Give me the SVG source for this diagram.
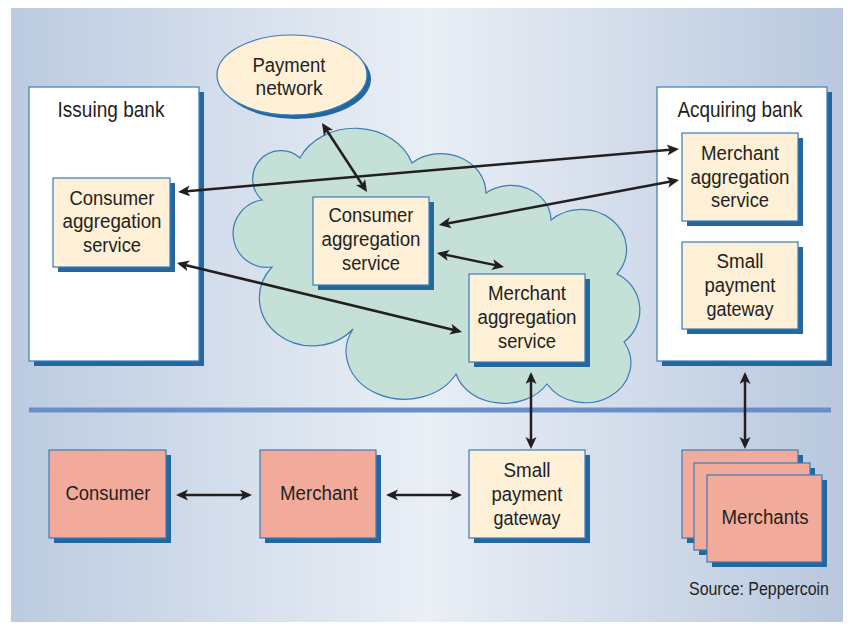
<svg xmlns="http://www.w3.org/2000/svg" width="848" height="624" viewBox="0 0 848 624">
<defs>
<linearGradient id="bg" x1="0" y1="0" x2="1" y2="0">
<stop offset="0" stop-color="#bccbe0"/>
<stop offset="0.5" stop-color="#eaeff6"/>
<stop offset="1" stop-color="#b9c8de"/>
</linearGradient>
<marker id="ah" markerUnits="userSpaceOnUse" markerWidth="14" markerHeight="12" refX="9" refY="5.5" orient="auto-start-reverse">
<path d="M0,0 L12,5.5 L0,11 L3,5.5 Z" fill="#231f20"/>
</marker>
<style>
.sh{fill:#22679f}
.box{stroke:#3b7cb8;stroke-width:1.2}
.bank{fill:#ffffff}
.cream{fill:#fff0d8}
.salmon{fill:#f2ab9a}
text{font-family:"Liberation Sans",Arial,sans-serif;fill:#231f20;text-anchor:middle;font-size:20px}
.lbl{font-size:22px}
.con{stroke:#231f20;stroke-width:2.5;fill:none;marker-start:url(#ah);marker-end:url(#ah)}
</style>
</defs>
<rect x="11" y="8" width="832" height="614" fill="url(#bg)"/>
<line x1="29" y1="410" x2="831" y2="410" stroke="#6a8fc8" stroke-width="5"/>

<g id="issuing-bank">
<rect class="sh" x="34" y="92" width="170" height="274"/>
<rect class="box bank" x="29" y="87" width="170" height="274"/>
<text class="lbl" x="111" y="117" textLength="107" lengthAdjust="spacingAndGlyphs">Issuing bank</text>
</g>
<g id="acquiring-bank">
<rect class="sh" x="662" y="92" width="170" height="274"/>
<rect class="box bank" x="657" y="87" width="170" height="274"/>
<text class="lbl" x="740" y="117" textLength="125" lengthAdjust="spacingAndGlyphs">Acquiring bank</text>
</g>

<g id="cloud">
<path d="M262,200 A28 28 0 0 1 300,158 A60 50 0 0 1 412,163 A45 40 0 0 1 486,193 A40 35 0 0 1 551,220 A45 40 0 0 1 617,274 A40 40 0 0 1 624,342 A40 35 0 0 1 547,384 A50 40 0 0 1 456,374 A55 45 0 0 1 353,329 A50 45 0 0 1 272,267 A30 30 0 0 1 262,200 Z" fill="#c5e0d6" stroke="#3b7cb8" stroke-width="1.2"/>
</g>

<g id="payment-network">
<ellipse class="sh" cx="296" cy="79" rx="75" ry="40"/>
<ellipse class="box cream" cx="292" cy="75" rx="75" ry="40"/>
<text x="289" y="72" textLength="73" lengthAdjust="spacingAndGlyphs">Payment</text>
<text x="289" y="95" textLength="67" lengthAdjust="spacingAndGlyphs">network</text>
</g>

<g id="issuing-consumer-agg">
<rect class="sh" x="58" y="183" width="117" height="89"/>
<rect class="box cream" x="53" y="178" width="117" height="89"/>
<text x="112" y="205" textLength="85" lengthAdjust="spacingAndGlyphs">Consumer</text>
<text x="112" y="228" textLength="99" lengthAdjust="spacingAndGlyphs">aggregation</text>
<text x="112" y="252" textLength="58" lengthAdjust="spacingAndGlyphs">service</text>
</g>

<g id="cloud-consumer-agg">
<rect class="sh" x="318" y="202" width="116" height="88"/>
<rect class="box cream" x="313" y="197" width="116" height="88"/>
<text x="371" y="222" textLength="85" lengthAdjust="spacingAndGlyphs">Consumer</text>
<text x="371" y="246" textLength="99" lengthAdjust="spacingAndGlyphs">aggregation</text>
<text x="371" y="270" textLength="58" lengthAdjust="spacingAndGlyphs">service</text>
</g>

<g id="cloud-merchant-agg">
<rect class="sh" x="474" y="279" width="116" height="88"/>
<rect class="box cream" x="469" y="274" width="116" height="88"/>
<text x="527" y="300" textLength="78" lengthAdjust="spacingAndGlyphs">Merchant</text>
<text x="527" y="324" textLength="99" lengthAdjust="spacingAndGlyphs">aggregation</text>
<text x="527" y="348" textLength="58" lengthAdjust="spacingAndGlyphs">service</text>
</g>

<g id="acq-merchant-agg">
<rect class="sh" x="687" y="138" width="116" height="88"/>
<rect class="box cream" x="682" y="133" width="116" height="88"/>
<text x="740" y="160" textLength="78" lengthAdjust="spacingAndGlyphs">Merchant</text>
<text x="740" y="184" textLength="99" lengthAdjust="spacingAndGlyphs">aggregation</text>
<text x="740" y="207" textLength="58" lengthAdjust="spacingAndGlyphs">service</text>
</g>

<g id="acq-small-payment-gateway">
<rect class="sh" x="687" y="247" width="116" height="87"/>
<rect class="box cream" x="682" y="242" width="116" height="87"/>
<text x="740" y="268" textLength="47" lengthAdjust="spacingAndGlyphs">Small</text>
<text x="740" y="292" textLength="71" lengthAdjust="spacingAndGlyphs">payment</text>
<text x="740" y="316" textLength="67" lengthAdjust="spacingAndGlyphs">gateway</text>
</g>

<g id="consumer">
<rect class="sh" x="54" y="455" width="117" height="88"/>
<rect class="box salmon" x="49" y="450" width="117" height="88"/>
<text x="108" y="500" textLength="85" lengthAdjust="spacingAndGlyphs">Consumer</text>
</g>

<g id="merchant">
<rect class="sh" x="265" y="455" width="116" height="88"/>
<rect class="box salmon" x="260" y="450" width="116" height="88"/>
<text x="319" y="500" textLength="78" lengthAdjust="spacingAndGlyphs">Merchant</text>
</g>

<g id="small-payment-gateway">
<rect class="sh" x="474" y="455" width="116" height="88"/>
<rect class="box cream" x="469" y="450" width="116" height="88"/>
<text x="527" y="477" textLength="47" lengthAdjust="spacingAndGlyphs">Small</text>
<text x="527" y="501" textLength="71" lengthAdjust="spacingAndGlyphs">payment</text>
<text x="527" y="525" textLength="67" lengthAdjust="spacingAndGlyphs">gateway</text>
</g>

<g id="merchants">
<rect class="sh" x="687" y="455" width="116" height="88"/>
<rect class="box salmon" x="682" y="450" width="116" height="88"/>
<rect class="sh" x="699" y="468" width="116" height="87"/>
<rect class="box salmon" x="694" y="463" width="116" height="87"/>
<rect class="sh" x="712" y="480" width="115" height="87"/>
<rect class="box salmon" x="707" y="475" width="115" height="87"/>
<text x="765" y="524" textLength="87" lengthAdjust="spacingAndGlyphs">Merchants</text>
</g>

<g id="connectors">
<line class="con" x1="323.6" y1="125.5" x2="365.4" y2="189.5"/>
<line class="con" x1="181" y1="191.7" x2="676" y2="149.3"/>
<line class="con" x1="441.9" y1="224.4" x2="676.1" y2="180.6"/>
<line class="con" x1="439.9" y1="253.6" x2="501.1" y2="266.4"/>
<line class="con" x1="179.9" y1="263.7" x2="459.1" y2="331.3"/>
<line class="con" x1="531" y1="375" x2="531" y2="446"/>
<line class="con" x1="745" y1="375" x2="745" y2="446"/>
<line class="con" x1="179" y1="495" x2="249" y2="495"/>
<line class="con" x1="389" y1="495" x2="459" y2="495"/>
</g>

<text x="759" y="595" style="font-size:17.5px" textLength="140" lengthAdjust="spacingAndGlyphs">Source: Peppercoin</text>
</svg>
